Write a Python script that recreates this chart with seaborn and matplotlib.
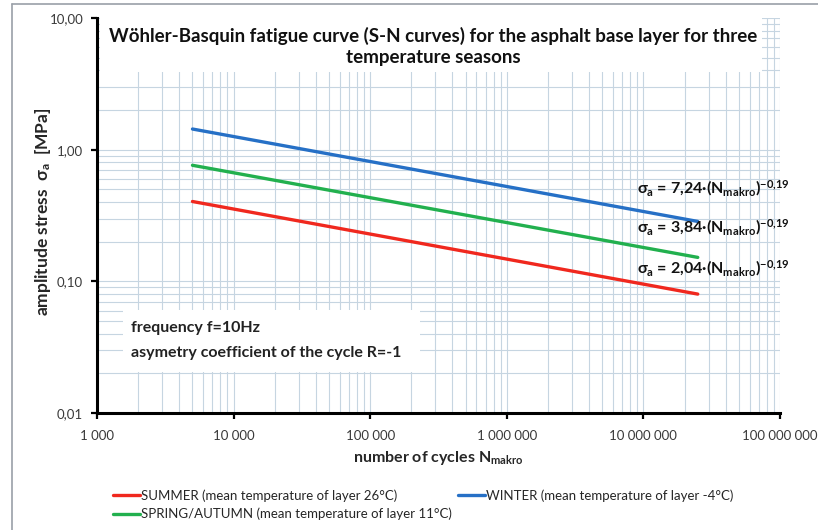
import matplotlib
matplotlib.use("Agg")
import matplotlib.pyplot as plt
import matplotlib.ticker as mticker
from matplotlib.patches import Rectangle
from matplotlib.lines import Line2D
import seaborn as sns
import pandas as pd

# ---- data ----
cycles = [5000, 25000000]
summer = [0.404, 0.080]
spring = [0.761, 0.152]
winter = [1.435, 0.285]
series_labels = [
    "SUMMER (mean temperature of layer 26°C)",
    "SPRING/AUTUMN (mean temperature of layer 11°C)",
    "WINTER (mean temperature of layer -4°C)",
]
series_colors = ["#f0281e", "#22b04e", "#2670c6"]
equations = [
    ("7,24", 0.51),
    ("3,84", 0.256),
    ("2,04", 0.127),
]
y_ticks = [0.01, 0.1, 1, 10]
x_ticks = [1e3, 1e4, 1e5, 1e6, 1e7, 1e8]

df = pd.DataFrame({
    "N": cycles * 3,
    "sigma": summer + spring + winter,
    "season": [series_labels[0]] * 2 + [series_labels[1]] * 2 + [series_labels[2]] * 2,
})

sns.set_theme(style="white")
plt.rcParams["font.family"] = ["Lato", "DejaVu Sans"]
plt.rcParams["mathtext.default"] = "regular"

fig = plt.figure(figsize=(8.18, 5.30), dpi=100)
ax = fig.add_axes([97 / 818, 1 - 413 / 530, (780 - 97) / 818, (413 - 18) / 530])

sns.lineplot(data=df, x="N", y="sigma", hue="season", hue_order=series_labels,
             palette=series_colors, linewidth=2.4, ax=ax, zorder=3)

ax.set_xscale("log")
ax.set_yscale("log")
ax.set_xlim(1e3, 1e8)
ax.set_ylim(0.01, 10)

ax.xaxis.set_major_locator(mticker.FixedLocator(x_ticks))
ax.yaxis.set_major_locator(mticker.FixedLocator(y_ticks))
ax.xaxis.set_minor_locator(mticker.LogLocator(base=10, subs=range(2, 10), numticks=20))
ax.yaxis.set_minor_locator(mticker.LogLocator(base=10, subs=range(2, 10), numticks=20))
ax.xaxis.set_major_formatter(mticker.FuncFormatter(lambda v, p: f"{int(round(v)):,}".replace(",", " ")))
ax.yaxis.set_major_formatter(mticker.FuncFormatter(lambda v, p: f"{v:.2f}".replace(".", ",")))
ax.xaxis.set_minor_formatter(mticker.NullFormatter())
ax.yaxis.set_minor_formatter(mticker.NullFormatter())

ax.grid(True, which="both", color="#c6d5e1", linewidth=0.8)
ax.set_axisbelow(True)
for s in ["top", "right"]:
    ax.spines[s].set_visible(False)
for s in ["left", "bottom"]:
    ax.spines[s].set_color("black")
    ax.spines[s].set_linewidth(2.2)
ax.tick_params(which="major", direction="out", length=4, width=1.6, color="black",
               labelsize=9.5, labelcolor="#3a3a3a", pad=6)
ax.tick_params(axis="x", which="major", pad=8)
ax.tick_params(which="minor", length=0)
ax.tick_params(axis="both", which="major", bottom=True, left=True)

ax.set_xlabel("number of cycles N$_{makro}$", fontsize=11.5, fontweight="bold")
ax.set_ylabel("amplitude stress  σ$_a$  [MPa]", fontsize=12.5, fontweight="bold")
ax.xaxis.set_label_coords(0.5, -0.09)
ax.yaxis.set_label_coords(-0.064, 0.51)

# white boxes behind title and note
ax.add_patch(Rectangle((0.004, 0.863), 0.97, 0.137, transform=ax.transAxes,
                       facecolor="white", edgecolor="none", zorder=1.5))
ax.add_patch(Rectangle((0.038, 0.104), 0.435, 0.157, transform=ax.transAxes,
                       facecolor="white", edgecolor="none", zorder=1.5))

ax.text(0.492, 0.978,
        "Wöhler-Basquin fatigue curve (S-N curves) for the asphalt base layer for three\ntemperature seasons",
        transform=ax.transAxes, ha="center", va="top", fontsize=13.5, fontweight="bold",
        color="#111111", linespacing=1.3, zorder=4)

ax.text(0.05, 0.215, "frequency f=10Hz", transform=ax.transAxes, ha="left", va="center",
        fontsize=11.5, fontweight="bold", color="#222222", zorder=4)
ax.text(0.05, 0.153, "asymetry coefficient of the cycle R=-1", transform=ax.transAxes,
        ha="left", va="center", fontsize=11.5, fontweight="bold", color="#222222", zorder=4)

for coef, ypos in equations:
    ax.text(9.0e6, ypos, "σ$_a$ = " + coef + "·(N$_{makro}$)$^{-0{,}19}$",
            ha="left", va="center", fontsize=11.5, fontweight="bold", color="#111111", zorder=4)

handles, labels = ax.get_legend_handles_labels()
ax.get_legend().remove()
for h in handles:
    h.set_linewidth(2.4)
fig.legend(handles, labels, ncol=2, loc="upper left", bbox_to_anchor=(108 / 818, 1 - 484 / 530),
           frameon=False, fontsize=9.5, handlelength=2.0, handletextpad=0.1,
           columnspacing=0.5, labelspacing=0.45, borderaxespad=0)

fig.add_artist(Line2D([12 / 818, 12 / 818], [0, 1 - 4 / 530], transform=fig.transFigure,
                      color="#9aa0a8", linewidth=1.2))
fig.add_artist(Line2D([12 / 818, 1], [1 - 4 / 530, 1 - 4 / 530], transform=fig.transFigure,
                      color="#9aa0a8", linewidth=1.2))

fig.savefig("out.png", dpi=100)
